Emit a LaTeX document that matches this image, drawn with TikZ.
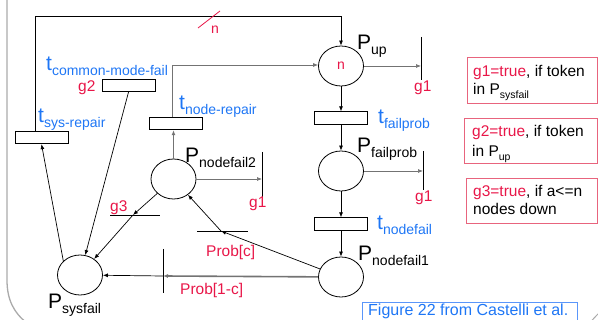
\documentclass[tikz,border=0pt]{standalone}
\usepackage{fontspec}
\setmainfont{Liberation Sans}
\usetikzlibrary{arrows.meta,shapes.geometric}
\definecolor{tred}{RGB}{232,22,72}
\definecolor{tblue}{RGB}{30,118,245}
\definecolor{bred}{RGB}{232,100,125}
\definecolor{bblue}{RGB}{90,150,250}
\definecolor{lgray}{RGB}{115,115,115}
\definecolor{fgray}{RGB}{170,170,170}
\newcommand\fsz[1]{\fontsize{#1}{#1}\selectfont}
\newcommand\PlaceLab[1]{{\fsz{21}P}\raisebox{-5pt}{\fsz{14}#1}}
\newcommand\TransLab[1]{{\fsz{21}t}\raisebox{-4.5pt}{\fsz{14}#1}}
\begin{document}
\begin{tikzpicture}[x=1pt,y=-1pt,
  place/.style={ellipse,draw,line width=0.8pt,minimum width=45pt,minimum height=40pt,inner sep=0pt},
  trans/.style={rectangle,draw,line width=0.8pt,minimum width=53pt,minimum height=12.5pt,inner sep=0pt},
  arr/.style={line width=0.7pt,-{Latex[length=5pt,width=4pt]}},
  garr/.style={arr,draw=lgray},
  gthick/.style={arr,draw=lgray,line width=1.6pt,-{Latex[length=5pt,width=4pt]}},
  bar/.style={line width=0.9pt},
  lab/.style={anchor=base west,inner sep=0pt},
  rlab/.style={lab,text=tred,font=\fsz{15.5}},
  blab/.style={lab,text=tblue},
  btext/.style={lab,font=\fsz{15.5}},
  gbox/.style={draw=bred,line width=0.8pt},
  fbox/.style={draw=bblue,line width=0.8pt}]
\useasboundingbox (0,0) rectangle (598,320);
% slide frame remnants
\draw[fgray,line width=1.3pt] (7,0) -- (7,280) .. controls (7,300) and (14,313) .. (27,323);
\draw[fgray,line width=1pt] (590,323) .. controls (593,319) and (595,317) .. (599,313);

% places
\node[place] (pup) at (341,66) {\fsz{14}\textcolor{tred}{n}};
\node[place] (pfail) at (341,171) {};
\node[place] (pnf1) at (341,277) {};
\node[place] (pnf2) at (173.5,179) {};
\node[place] (psys) at (80,275) {};

% transitions
\node[trans] (tsys) at (41.5,137.5) {};
\node[trans] (tcm) at (128.5,85.5) {};
\node[trans] (tnode) at (175.5,123.5) {};
\node[trans] (tfail) at (341,118) {};
\node[trans] (tnf) at (341,224) {};

% immediate transitions (bars)
\coordinate (b1t) at (421,37); \coordinate (b1b) at (421,80); \coordinate (b1) at (421,66);
\coordinate (b2t) at (423,151); \coordinate (b2b) at (423,190); \coordinate (b2) at (423,171);
\coordinate (b5t) at (262,152); \coordinate (b5b) at (262,199); \coordinate (b5) at (262,179);
\coordinate (b4t) at (163,249); \coordinate (b4b) at (163,293); \coordinate (b4) at (163,276);
\coordinate (bcl) at (197,231); \coordinate (bcr) at (248,231); \coordinate (bc) at (221,231);
\coordinate (b3l) at (110,215); \coordinate (b3r) at (160,215); \coordinate (b3) at (133,215);
\foreach \a/\b in {b1t/b1b,b2t/b2b,b5t/b5b,b4t/b4b,bcl/bcr,b3l/b3r}
  \draw[bar] (\a) -- (\b);

% loops to P_up
\coordinate (c1) at (35,16);
\coordinate (c2) at (172,65);
\draw[arr] (tsys.north west -| c1) -- (c1) -| (pup.north);
\draw[garr] (tnode.north -| c2) -- (c2) -- (pup.west |- c2);
\draw[tred,line width=0.8pt] (198,28) -- (220,11);
\node[rlab,font=\fsz{14}] (nlab) at (211,34) {n};

% main column
\draw[arr] (pup) -- (tfail);
\draw[arr] (tfail) -- (pfail);
\draw[arr] (pfail) -- (tnf);
\draw[arr] (tnf) -- (pnf1);
\draw[garr] (pup) -- (b1);
\draw[garr] (pfail) -- (b2);
\draw[garr] (pnf2) -- (b5);

% lower part
\draw[gthick] (pnf1) -- (b4);
\draw[arr] (b4) -- (psys);
\draw[arr] (pnf1) -- (bc);
\draw[arr] (bc) -- (pnf2);
\draw[arr] (pnf2) -- (b3);
\draw[arr] (b3) -- (psys);
\draw[arr] (tcm.south) -- (psys);
\draw[arr] (psys.140) -- (tsys.south);
\draw[garr,line width=1.4pt] (pnf2.north) -- (pnf2.north |- tnode.south);

% place labels
\node[lab] (lpup) at (357,50) {\PlaceLab{up}};
\node[lab] (lpfail) at (357,153) {\PlaceLab{failprob}};
\node[lab] (lpnf1) at (358,261) {\PlaceLab{nodefail1}};
\node[lab] (lpnf2) at (185,163) {\PlaceLab{nodefail2}};
\node[lab] (lpsys) at (48,309) {\PlaceLab{sysfail}};

% transition labels
\node[blab] (ltcm) at (46,71) {\TransLab{common-mode-fail}};
\node[blab] (ltsys) at (38,123) {\TransLab{sys-repair}};
\node[blab] (ltnode) at (179,110) {\TransLab{node-repair}};
\node[blab] (ltfail) at (378,124) {\TransLab{failprob}};
\node[blab] (ltnf) at (377,230) {\TransLab{nodefail}};

% guard / probability labels
\node[rlab] (lg2) at (78,92) {g2};
\node[rlab] (lg1a) at (414,92) {g1};
\node[rlab] (lg1b) at (415,202) {g1};
\node[rlab] (lg1c) at (249,208) {g1};
\node[rlab] (lg3) at (110,212) {g3};
\node[rlab] (lpc) at (206,257) {Prob[c]};
\node[rlab] (lp1c) at (180,295) {Prob[1-c]};

% legend boxes
\node[gbox,rectangle,anchor=north west,minimum width=130pt,minimum height=46pt,inner sep=0pt] (box1) at (467,57) {};
\node[btext] (box1a) at (473,77) {\textcolor{tred}{g1=true}, if token};
\node[btext] (box1b) at (473,95) {in P\raisebox{-3.5pt}{\fsz{10.5}sysfail}};
\node[gbox,rectangle,anchor=north west,minimum width=133pt,minimum height=45pt,inner sep=0pt] (box2) at (464,118) {};
\node[btext] (box2a) at (472,137) {\textcolor{tred}{g2=true}, if token};
\node[btext] (box2b) at (472,157) {in P\raisebox{-3.5pt}{\fsz{10.5}up}};
\node[gbox,rectangle,anchor=north west,minimum width=131pt,minimum height=45pt,inner sep=0pt] (box3) at (466,178) {};
\node[btext] (box3a) at (473,196.5) {\textcolor{tred}{g3=true}, if a<=n};
\node[btext] (box3b) at (473,215) {nodes down};
\node[fbox,rectangle,anchor=north west,minimum width=215pt,minimum height=30pt,inner sep=0pt] (fig) at (362,302) {};
\node[lab,text=tblue,font=\fsz{16}] (figt) at (368,316) {Figure 22 from Castelli et al.};
\end{tikzpicture}
\end{document}
